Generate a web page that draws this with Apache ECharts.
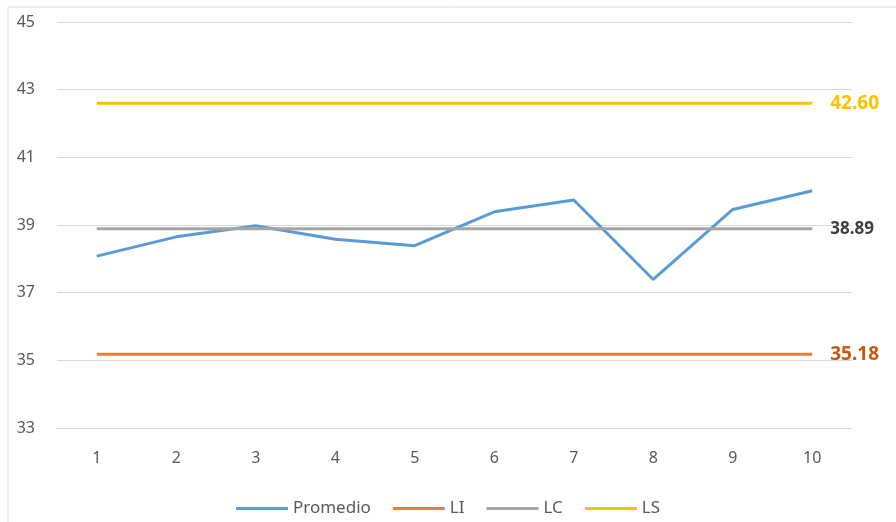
<!DOCTYPE html>
<html>
<head>
<meta charset="utf-8">
<script src="https://cdn.jsdelivr.net/npm/echarts@6/dist/echarts.min.js"></script>
<style>
html, body { margin: 0; padding: 0; background: #fff; }
#chart { width: 896px; height: 522px; }
</style>
</head>
<body>
<div id="chart"></div>
<script>
// datos del gráfico de control
var muestras = ['1', '2', '3', '4', '5', '6', '7', '8', '9', '10'];
var promedio = [38.08, 38.65, 38.98, 38.58, 38.39, 39.39, 39.74, 37.39, 39.46, 40.01];
var limInf = 35.18;
var limCen = 38.89;
var limSup = 42.60;

function constante(v) {
	return muestras.map(function() { return v; });
}

var myChart = echarts.init(document.getElementById('chart'));

var font = 'Noto Sans';

function limite(nombre, valor, color, etiqueta) {
	return {
		name: nombre,
		type: 'line',
		data: constante(valor),
		symbol: 'none',
		lineStyle: { width: 3, color: color },
		itemStyle: { color: color },
		silent: true,
		endLabel: {
			show: true,
			distance: 18,
			fontFamily: font,
			fontWeight: 'bold',
			fontSize: etiqueta.size,
			color: etiqueta.color,
			formatter: function(p) { return Number(p.value).toFixed(2); }
		}
	};
}

var option = {
	animation: false,
	backgroundColor: '#fff',
	graphic: [{
		type: 'rect',
		shape: { x: 8, y: 7, width: 900, height: 530 },
		style: { fill: 'none', stroke: '#d9d9d9', lineWidth: 1 }
	}],
	grid: { left: 57, right: 44, top: 22, bottom: 94 },
	legend: {
		bottom: 0,
		icon: 'rect',
		itemWidth: 52,
		itemHeight: 3,
		itemGap: 22,
		textStyle: { fontFamily: font, fontSize: 17, color: '#595959' },
		data: ['Promedio', 'LI', 'LC', 'LS']
	},
	xAxis: {
		type: 'category',
		data: muestras,
		boundaryGap: true,
		axisLine: { show: true, lineStyle: { color: '#d9d9d9' } },
		axisTick: { show: false },
		axisLabel: { fontFamily: font, fontSize: 16, color: '#595959', margin: 22 }
	},
	yAxis: {
		type: 'value',
		min: 33,
		max: 45,
		interval: 2,
		axisLine: { show: false },
		axisTick: { show: false },
		axisLabel: { fontFamily: font, fontSize: 16, color: '#595959', margin: 22 },
		splitLine: { lineStyle: { color: '#d9d9d9', width: 1 } }
	},
	series: [
		{
			name: 'Promedio',
			type: 'line',
			data: promedio,
			symbol: 'none',
			lineStyle: { width: 3, color: '#5b9bd5' },
			itemStyle: { color: '#5b9bd5' },
			z: 3
		},
		limite('LI', limInf, '#ed7d31', { size: 19, color: '#c55a11' }),
		limite('LC', limCen, '#a5a5a5', { size: 17, color: '#404040' }),
		limite('LS', limSup, '#ffc000', { size: 19, color: '#ffc000' })
	]
};

myChart.setOption(option);
</script>
</body>
</html>
